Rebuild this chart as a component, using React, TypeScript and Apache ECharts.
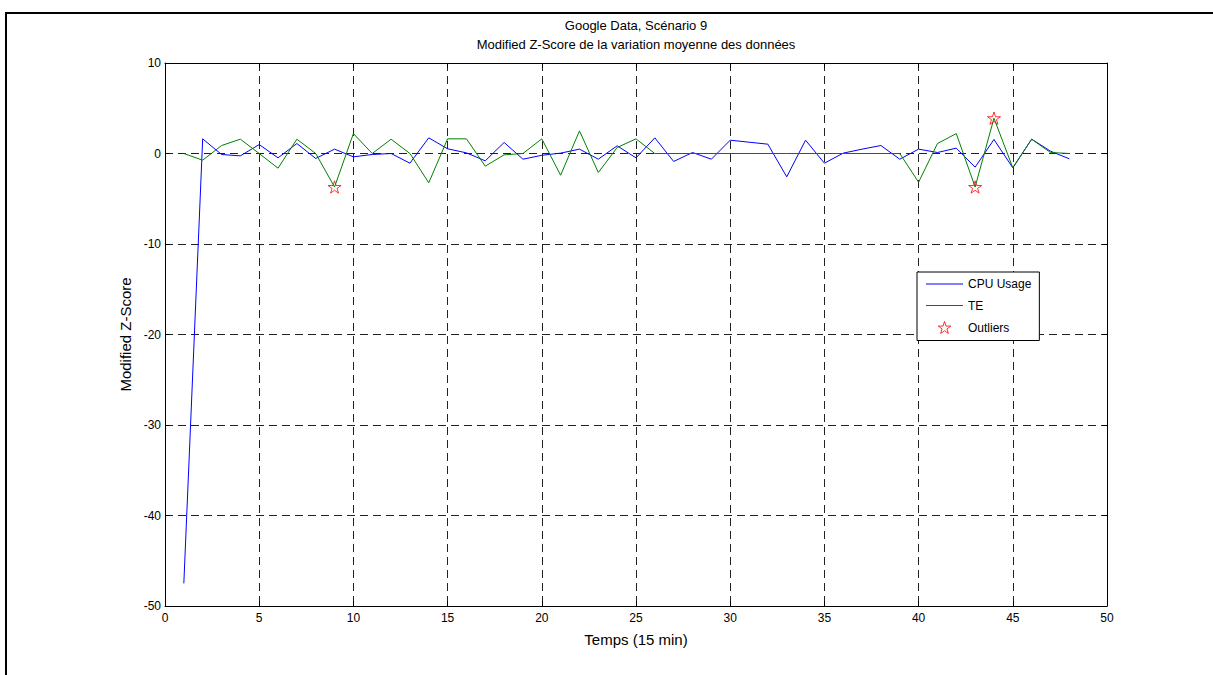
import React, { useEffect, useRef } from "react";
import * as echarts from "echarts";

const timeSteps = [1, 2, 3, 4, 5, 6, 7, 8, 9, 10, 11, 12, 13, 14, 15, 16, 17, 18, 19, 20, 21, 22, 23, 24, 25, 26, 27, 28, 29, 30, 31, 32, 33, 34, 35, 36, 37, 38, 39, 40, 41, 42, 43, 44, 45, 46, 47, 48];
const cpuUsage = [-47.5, 1.62, -0.11, -0.26, 0.99, -0.48, 1.1, -0.55, 0.48, -0.37, -0.11, 0, -1.07, 1.73, 0.52, 0.07, -0.81, 1.22, -0.63, -0.2, 0.04, 0.48, -0.63, 0.85, -0.48, 1.73, -0.88, 0.11, -0.63, 1.47, 1.25, 1.03, -2.58, 1.47, -1.07, 0.04, 0.48, 0.88, -0.63, 0.48, 0.11, 0.59, -1.51, 1.55, -1.58, 1.58, 0.26, -0.59];
const teValues = [0, -0.74, 0.88, 1.58, 0, -1.62, 1.58, 0, -3.7, 2.2, 0, 1.58, 0, -3.24, 1.62, 1.62, -1.4, -0.15, 0, 1.62, -2.4, 2.5, -2.1, 0.66, 1.62, 0, 0, 0, 0, 0, 0, 0, 0, 0, 0, 0, 0, 0, 0, -3.17, 1.1, 2.2, -3.7, 3.9, -1.58, 1.58, 0.11, 0];
const outlierTimes = [9, 43, 44];
const outlierValues = [-3.7, -3.7, 3.9];

const xTicks = { min: 0, max: 50, interval: 5 };
const yTicks = { min: -50, max: 10, interval: 10 };

const titleLine1 = "Google Data, Scénario 9";
const titleLine2 = "Modified Z-Score de la variation moyenne des données";
const xName = "Temps (15 min)";
const yName = "Modified Z-Score";
const seriesNames = ["CPU Usage", "TE", "Outliers"];

function starPath(): string {
  const pts: string[] = [];
  for (let i = 0; i < 10; i++) {
    const a = (-90 + i * 36) * Math.PI / 180;
    const r = i % 2 === 0 ? 50 : 50 * 0.382;
    const x = 50 + r * Math.cos(a);
    const y = 50 + r * Math.sin(a);
    pts.push((i === 0 ? "M" : "L") + x.toFixed(2) + " " + y.toFixed(2));
  }
  return "path://" + pts.join(" ") + " Z";
}

const FONT = "'Liberation Sans', Arial, sans-serif";

export default function App() {
  const ref = useRef<HTMLDivElement>(null);
  useEffect(() => {
    document.body.style.margin = "0";
    const chart = echarts.init(ref.current!, undefined, { renderer: "svg" });
    const star = starPath();
    const linePairs = (vals: number[]) => timeSteps.map((t, i) => [t, vals[i]]);
    const axisCommon = {
      axisLine: { show: true, onZero: false, lineStyle: { color: "#000", width: 1 } },
      axisTick: { show: true, inside: true, length: 5, lineStyle: { color: "#000" } },
    };
    const starStyle = { color: "rgba(255,255,255,0)", borderColor: "#ff0000", borderWidth: 1 };
    chart.setOption({
      animation: false,
      backgroundColor: "#fff",
      textStyle: { fontFamily: FONT },
      title: {
        text: titleLine1,
        subtext: titleLine2,
        left: 636,
        top: 18,
        padding: 0,
        textAlign: "center",
        itemGap: 4,
        textStyle: { fontSize: 13, fontWeight: "normal", color: "#000", fontFamily: FONT, lineHeight: 15 },
        subtextStyle: { fontSize: 13, color: "#000", fontFamily: FONT, lineHeight: 15 },
      },
      grid: { left: 165, top: 63, right: 106, bottom: 69, containLabel: false },
      xAxis: [
        {
          type: "value", min: xTicks.min, max: xTicks.max, interval: xTicks.interval,
          position: "bottom",
          name: xName, nameLocation: "middle", nameGap: 26,
          nameTextStyle: { fontSize: 15, color: "#000", fontFamily: FONT },
          ...axisCommon,
          axisLabel: { color: "#000", fontSize: 12, margin: 6, fontFamily: FONT },
          splitLine: { show: true, lineStyle: { color: "#222", width: 1, type: [8, 5] } },
        },
        {
          type: "value", min: xTicks.min, max: xTicks.max, interval: xTicks.interval,
          position: "top",
          ...axisCommon,
          axisLabel: { show: false },
          splitLine: { show: false },
        },
      ],
      yAxis: [
        {
          type: "value", min: yTicks.min, max: yTicks.max, interval: yTicks.interval,
          position: "left",
          name: yName, nameLocation: "middle", nameGap: 27, nameRotate: 90,
          nameTextStyle: { fontSize: 15, color: "#000", fontFamily: FONT },
          ...axisCommon,
          axisLabel: { color: "#000", fontSize: 12, margin: 4, fontFamily: FONT },
          splitLine: { show: true, lineStyle: { color: "#222", width: 1, type: [8, 5] } },
        },
        {
          type: "value", min: yTicks.min, max: yTicks.max, interval: yTicks.interval,
          position: "right",
          ...axisCommon,
          axisLabel: { show: false },
          splitLine: { show: false },
        },
      ],
      legend: {
        orient: "vertical",
        left: 917,
        top: 272,
        padding: [6, 8, 6.5, 9],
        itemWidth: 37,
        itemHeight: 12,
        itemGap: 9.5,
        selectedMode: false,
        borderColor: "#000",
        borderWidth: 1,
        backgroundColor: "#fff",
        textStyle: { fontSize: 12, color: "#000", fontFamily: FONT, lineHeight: 12 },
        data: [
          { name: seriesNames[0], icon: "path://M0 0H37V1H0Z", itemStyle: { color: "#0000ff" } },
          { name: seriesNames[1], icon: "path://M0 0H37V1H0Z", itemStyle: { color: "#008000" } },
          { name: seriesNames[2], icon: star, itemStyle: starStyle },
        ],
      },
      graphic: [
        {
          type: "rect",
          shape: { x: 6, y: 13, width: 1400, height: 900 },
          style: { fill: "none", stroke: "#000", lineWidth: 2 },
          silent: true,
          z: 100,
        },
      ],
      series: [
        {
          name: seriesNames[0],
          type: "line",
          data: linePairs(cpuUsage),
          showSymbol: false,
          symbol: "none",
          lineStyle: { color: "#0000ff", width: 1 },
          itemStyle: { color: "#0000ff" },
          z: 3,
        },
        {
          name: seriesNames[1],
          type: "line",
          data: linePairs(teValues),
          showSymbol: false,
          symbol: "none",
          lineStyle: { color: "#008000", width: 1 },
          itemStyle: { color: "#008000" },
          z: 4,
        },
        {
          name: seriesNames[2],
          type: "scatter",
          data: outlierTimes.map((t, i) => [t, outlierValues[i]]),
          symbol: star,
          symbolSize: 13,
          symbolKeepAspect: true,
          itemStyle: starStyle,
          z: 5,
        },
      ],
    });
    return () => chart.dispose();
  }, []);
  return <div ref={ref} style={{ width: 1213, height: 675 }} />;
}
